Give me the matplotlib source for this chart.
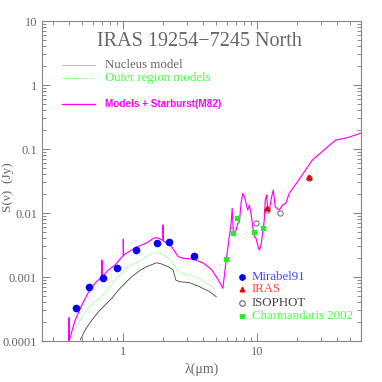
import matplotlib
matplotlib.use("Agg")
import matplotlib.pyplot as plt
from matplotlib.ticker import LogLocator, NullFormatter, FixedFormatter, FixedLocator

# photometry (wavelength in micron, flux in Jy)
mirabel_wl = [0.448, 0.556, 0.707, 0.907, 1.256, 1.79, 2.21, 3.38]
mirabel_fl = [3.3e-4, 6.9e-4, 9.5e-4, 1.4e-3, 2.67e-3, 3.36e-3, 3.48e-3, 2.13e-3]

iras_wl = [11.9, 24.4]
iras_fl = [0.0121, 0.036]

isophot_wl = [9.83, 11.9, 14.8, 24.4]
isophot_fl = [6.98e-3, 1.10e-2, 1.0e-2, 0.0356]

charm_wl = [5.92, 6.70, 7.10, 9.50, 11.2]
charm_fl = [1.91e-3, 4.81e-3, 8.35e-3, 5.1e-3, 5.9e-3]

# models
total_wl = [0.391, 0.397, 0.397, 0.397, 0.404, 0.442, 0.496, 0.556, 0.623, 0.698,
            0.70, 0.70, 0.702, 0.783, 0.877, 0.983, 1.01, 1.01, 1.015, 1.10,
            1.234, 1.384, 1.508, 1.690, 1.788, 1.948, 2.0, 2.0, 2.01, 2.122,
            2.311, 2.445, 2.591, 2.822, 3.35, 3.97, 4.58, 5.13, 5.59, 5.92,
            6.44, 6.56, 6.70, 7.02, 7.22, 7.43, 7.64, 7.87, 8.09, 8.33,
            8.57, 8.81, 9.07, 9.34, 9.60, 9.88, 10.17, 10.45, 10.76, 11.09,
            11.39, 11.58, 11.87, 12.07, 12.41, 12.77, 13.28, 13.75, 14.72, 15.61,
            16.5, 17.47, 20.15, 26.05, 38.8, 47.4, 61.2]
total_fl = [8.7e-5, 1.0e-4, 2.3e-4, 1.0e-4, 1.11e-4, 2.13e-4, 3.65e-4, 5.83e-4, 8.06e-4, 1.0e-3,
            1.0e-3, 1.84e-3, 1.0e-3, 1.29e-3, 1.54e-3, 2.05e-3, 2.15e-3, 3.9e-3, 2.17e-3, 2.46e-3,
            2.84e-3, 3.16e-3, 3.40e-3, 4.0e-3, 4.14e-3, 3.85e-3, 3.7e-3, 6.5e-3, 3.65e-3, 3.40e-3,
            3.0e-3, 2.50e-3, 2.09e-3, 1.96e-3, 1.91e-3, 1.66e-3, 1.33e-3, 9.3e-4, 6.66e-4, 1.84e-3,
            6.90e-3, 1.18e-2, 4.82e-3, 5.42e-3, 6.90e-3, 7.31e-3, 1.42e-2, 2.03e-2, 1.80e-2, 1.42e-2,
            1.11e-2, 1.33e-2, 9.89e-3, 6.11e-3, 4.26e-3, 4.02e-3, 3.16e-3, 2.64e-3, 3.16e-3, 4.82e-3,
            7.78e-3, 1.60e-2, 1.91e-2, 1.18e-2, 1.05e-2, 1.60e-2, 2.29e-2, 1.25e-2, 1.11e-2, 1.33e-2,
            1.42e-2, 2.03e-2, 3.08e-2, 6.73e-2, 0.138, 0.150, 0.180]

outer_wl = [0.442, 0.496, 0.556, 0.623, 0.698, 0.783, 0.877, 0.983, 1.10, 1.234,
            1.384, 1.508, 1.690, 1.840, 2.005, 2.184, 2.378, 2.517, 2.742, 3.16,
            3.75, 4.45, 4.99]
outer_fl = [1.49e-4, 2.40e-4, 3.28e-4, 4.11e-4, 4.92e-4, 6.66e-4, 8.98e-4, 1.14e-3, 1.45e-3, 1.64e-3,
            1.84e-3, 2.08e-3, 2.34e-3, 2.40e-3, 2.21e-3, 1.96e-3, 1.64e-3, 1.29e-3, 1.14e-3, 1.07e-3,
            9.55e-4, 7.50e-4, 6.26e-4]

nucleus_wl = [0.482, 0.525, 0.589, 0.660, 0.739, 0.829, 0.929, 1.040, 1.166, 1.384,
              1.508, 1.788, 1.948, 2.184, 2.378, 2.489, 2.663, 3.16, 3.75, 4.45, 4.99]
nucleus_fl = [1.04e-4, 1.49e-4, 2.13e-4, 2.87e-4, 3.65e-4, 4.65e-4, 6.26e-4, 7.97e-4, 1.01e-3, 1.32e-3,
              1.45e-3, 1.67e-3, 1.60e-3, 1.45e-3, 1.29e-3, 8.98e-4, 8.45e-4, 8.15e-4, 7.05e-4, 5.89e-4, 4.92e-4]

ytick_vals = [1e-4, 1e-3, 1e-2, 0.1, 1, 10]
ytick_labels = ["0.0001", "0.001", "0.01", "0.1", "1", "10"]
xtick_vals = [1, 10]
xtick_labels = ["1", "10"]

txt = "#666666"
serif = "Liberation Serif"
sans = "Liberation Sans"
green = "#44ff44"

fig = plt.figure(figsize=(3.82, 3.82), dpi=100)
ax = fig.add_axes([0.110, 0.1073, 0.835, 0.8377])

ax.plot(nucleus_wl, nucleus_fl, color="#444444", lw=0.6)
ax.plot(outer_wl, outer_fl, color=green, lw=0.6, ls=(0, (1, 1.3)))
ax.plot(total_wl, total_fl, color="#ff00ff", lw=0.85)

ax.plot(mirabel_wl, mirabel_fl, "o", color="#0000ff", ms=4.5, mec="#0000ff")
ax.plot(isophot_wl, isophot_fl, "o", mfc="none", mec="#666666", ms=3.8, mew=0.7)
ax.plot(iras_wl, iras_fl, "^", color="#ee0000", ms=3.5)
ax.plot(charm_wl, charm_fl, "s", color="#22ee22", ms=3.5)

ax.set_xscale("log")
ax.set_yscale("log")
ax.set_xlim(0.25, 60)
ax.set_ylim(1e-4, 10)

ax.yaxis.set_major_locator(FixedLocator(ytick_vals))
ax.yaxis.set_major_formatter(FixedFormatter(ytick_labels))
ax.xaxis.set_major_locator(FixedLocator(xtick_vals))
ax.xaxis.set_major_formatter(FixedFormatter(xtick_labels))
for axis in (ax.xaxis, ax.yaxis):
    axis.set_minor_locator(LogLocator(base=10, subs=range(2, 10), numticks=20))
    axis.set_minor_formatter(NullFormatter())

ax.tick_params(which="both", direction="in", top=True, right=True, colors="#888888",
               labelcolor=txt, labelsize=9)
ax.tick_params(which="major", length=6, width=0.8)
ax.tick_params(which="minor", length=3, width=0.7)
for lab in ax.get_xticklabels() + ax.get_yticklabels():
    lab.set_fontfamily(serif)
for s in ax.spines.values():
    s.set_color("#888888")
    s.set_linewidth(0.8)

ax.set_xlabel("λ(μm)", fontfamily=serif, fontsize=10, color=txt, labelpad=3)
fig.text(8 / 382, 1 - 187 / 382, "S(ν)  (Jy)", rotation=90, ha="center", va="center",
         fontfamily=serif, fontsize=9.5, color=txt)

# title inside plot
ax.text(0.492, 0.935, "IRAS 19254\u22127245 North", transform=ax.transAxes, ha="center", va="center",
        fontfamily=serif, fontsize=14.5, color=txt)

# model legend
ax.plot([0.063, 0.166], [0.8625, 0.8625], transform=ax.transAxes, color="#bbbbbb", lw=0.7)
ax.plot([0.063, 0.166], [0.821, 0.821], transform=ax.transAxes, color=green, lw=0.6, ls=(0, (1, 1.3)))
ax.plot([0.063, 0.166], [0.741, 0.741], transform=ax.transAxes, color="#ff00ff", lw=0.9)
ax.text(0.197, 0.8625, "Nucleus model", transform=ax.transAxes, va="center",
        fontfamily=serif, fontsize=9.3, color=txt)
ax.text(0.197, 0.821, "Outer region models", transform=ax.transAxes, va="center",
        fontfamily=serif, fontsize=9.3, color=green)
ax.text(0.197, 0.741, "Models + Starburst(M82)", transform=ax.transAxes, va="center",
        fontfamily=sans, fontsize=7.2, fontweight="bold", color="#ff00ff")

# data legend
leg = [("o", "#0000ff", "#0000ff", "Mirabel91", "#4444ff", 0.199),
       ("^", "#ee0000", "#ee0000", "IRAS", "#ff4444", 0.1616),
       ("o", "none", "#666666", "ISOPHOT", "#444444", 0.120),
       ("s", "#22ee22", "#22ee22", "Charmandaris 2002", green, 0.079)]
for m, fc, ec, label, tc, yy in leg:
    ax.plot([0.626], [yy], m, mfc=fc, mec=ec, ms=4 if m == "o" else 3.5, mew=0.8,
            transform=ax.transAxes)
    ax.text(0.657, yy, label, transform=ax.transAxes, va="center",
            fontfamily=serif, fontsize=9.3, color=tc)

fig.savefig("out.png", dpi=100)
